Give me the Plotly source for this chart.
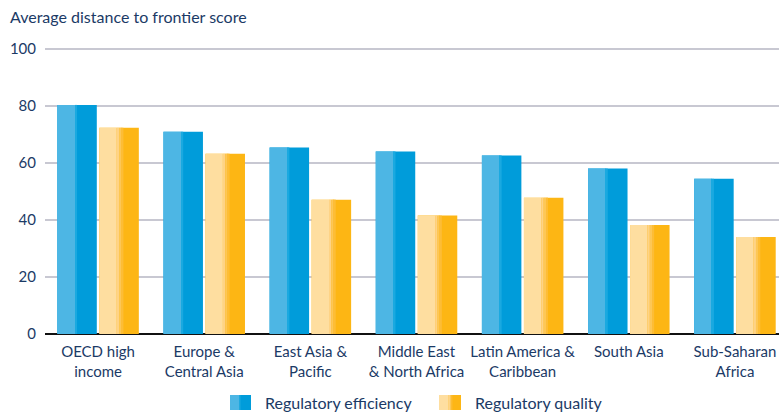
import plotly.graph_objects as go

categories = ["OECD high<br>income", "Europe &<br>Central Asia", "East Asia &<br>Pacific",
              "Middle East<br>& North Africa", "Latin America &<br>Caribbean", "South Asia",
              "Sub-Saharan<br>Africa"]
reg_efficiency = [80.3, 70.9, 65.4, 64.0, 62.6, 58.0, 54.4]
reg_quality = [72.3, 63.2, 47.1, 41.5, 47.8, 38.2, 34.0]
series_names = ["Regulatory efficiency", "Regulatory quality"]
y_ticks = [0, 20, 40, 60, 80, 100]

FONT = "Lato, sans-serif"
TXT = "#1b3a66"

blue_parts = [("#009cda", 0.0, 1.0), ("#4db6e4", 0.0, 0.45), ("#1aa9e0", 0.45, 0.50)]
yellow_parts = [("#fdb614", 0.0, 1.0), ("#fedea0", 0.0, 0.44), ("#fed386", 0.44, 0.50),
                ("#fdc756", 0.50, 0.56), ("#fdbd36", 0.56, 0.61)]

W = 0.372
fig = go.Figure()
for vals, parts, off, name in [(reg_efficiency, blue_parts, -0.384, series_names[0]),
                               (reg_quality, yellow_parts, 0.012, series_names[1])]:
    for col, a, b in parts:
        fig.add_trace(go.Bar(x=categories, y=vals, name=name, showlegend=False,
                             marker=dict(color=col, line=dict(width=0)),
                             offset=off + a * W, width=(b - a) * W, hoverinfo="skip"))

PT, PB = 47, 81
PH = 415 - PT - PB
fig.update_layout(
    width=779, height=415, barmode="overlay",
    margin=dict(l=45, r=0, t=PT, b=PB),
    paper_bgcolor="white", plot_bgcolor="white",
    font=dict(family=FONT, size=15, color=TXT),
    xaxis=dict(range=[-0.5, 6.415], showgrid=False, ticks="", tickfont=dict(size=15),
               showline=False, ticklabelstandoff=7),
    yaxis=dict(range=[0, 100.6], tickvals=y_ticks, showgrid=True, gridcolor="#c8c8d2",
               gridwidth=2, zeroline=True, zerolinecolor="#111111", zerolinewidth=1.5,
               ticks="", ticklabelstandoff=8, tickfont=dict(size=15)),
)

def px_x(p):
    return (p - 45) / 734

def px_y(p):
    return (415 - PB - p) / PH

fig.add_annotation(text="Average distance to frontier score", xref="paper", yref="paper",
                   x=px_x(8), y=px_y(16), xanchor="left", yanchor="middle",
                   showarrow=False, font=dict(size=16, color=TXT))

# custom legend with split swatches
legend_items = [(230, 251, 263, blue_parts), (439, 461, 473, yellow_parts)]
for (x0, x1, tx, parts), name in zip(legend_items, series_names):
    for col, a, b in parts:
        fig.add_shape(type="rect", xref="paper", yref="paper",
                      x0=px_x(x0 + a * (x1 - x0)), x1=px_x(x0 + b * (x1 - x0)),
                      y0=px_y(410), y1=px_y(395), fillcolor=col, line=dict(width=0))
    fig.add_annotation(text=name, xref="paper", yref="paper", x=px_x(tx), y=px_y(402.5),
                       xanchor="left", yanchor="middle", showarrow=False,
                       font=dict(size=16, color=TXT))

fig.write_html("out.html", config={"displayModeBar": False},
               post_script="document.body.style.margin='0px';")
